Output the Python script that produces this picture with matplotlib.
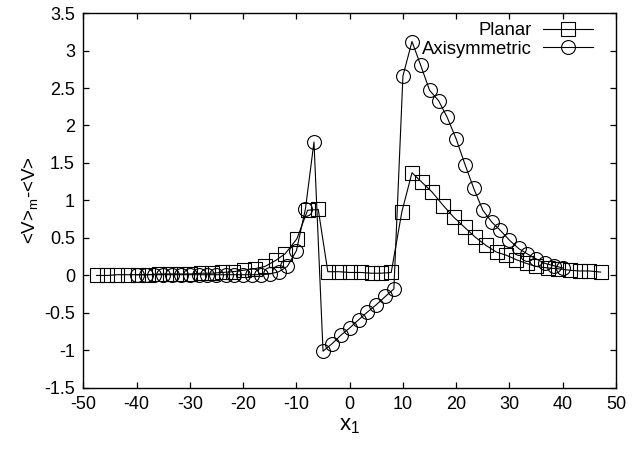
import numpy as np
import matplotlib
matplotlib.use("Agg")
import matplotlib.pyplot as plt

plt.rcParams['font.family'] = ['Liberation Sans', 'DejaVu Sans']
plt.rcParams['mathtext.fontset'] = 'custom'
plt.rcParams['mathtext.rm'] = 'Liberation Sans'
plt.rcParams['mathtext.it'] = 'Liberation Sans'
plt.rcParams['axes.unicode_minus'] = False

# planar case
planar_x = [-47.5, -45.5, -43.6, -41.7, -39.7, -37.8, -35.8, -33.8, -31.8, -29.9,
            -27.9, -25.9, -23.9, -21.9, -19.9, -17.8, -15.9, -13.9, -12.1, -9.9,
            -7.9, -5.9, -4.1, -2.0, 0.0, 2.1, 4.1, 5.9, 7.8, 9.8,
            11.7, 13.6, 15.5, 17.6, 19.5, 21.6, 23.6, 25.6, 27.6, 29.4,
            31.3, 33.2, 35.0, 37.2, 39.1, 41.3, 43.2, 45.0, 47.1]
planar_y = [0.0, 0.0, 0.01, 0.01, 0.01, 0.01, 0.02, 0.02, 0.02, 0.02,
            0.03, 0.03, 0.04, 0.05, 0.07, 0.09, 0.12, 0.20, 0.29, 0.49,
            0.87, 0.88, 0.05, 0.05, 0.04, 0.04, 0.03, 0.03, 0.04, 0.85,
            1.37, 1.24, 1.11, 0.93, 0.78, 0.64, 0.51, 0.40, 0.31, 0.27,
            0.21, 0.16, 0.12, 0.10, 0.09, 0.07, 0.06, 0.06, 0.045]

# axisymmetric case
axi_x = [-40.0, -38.3, -36.7, -35.0, -33.3, -31.7, -30.0, -28.3, -26.7, -25.0,
         -23.3, -21.7, -20.0, -18.3, -16.7, -15.0, -13.3, -11.7, -10.0, -8.3,
         -6.7, -5.0, -3.3, -1.7, 0.0, 1.7, 3.3, 5.0, 6.7, 8.3,
         10.0, 11.7, 13.3, 15.0, 16.7, 18.3, 20.0, 21.7, 23.3, 25.0,
         26.7, 28.3, 30.0, 31.7, 33.3, 35.0, 36.7, 38.3, 40.0]
axi_y = [0.01, 0.01, 0.01, 0.01, 0.01, 0.01, 0.01, 0.01, 0.01, 0.01,
         0.01, 0.01, 0.01, 0.01, 0.01, 0.02, 0.05, 0.12, 0.33, 0.89,
         1.78, -1.01, -0.91, -0.80, -0.70, -0.59, -0.49, -0.39, -0.28, -0.18,
         2.66, 3.12, 2.81, 2.47, 2.33, 2.11, 1.82, 1.47, 1.16, 0.87,
         0.71, 0.60, 0.47, 0.36, 0.29, 0.22, 0.16, 0.13, 0.10]

fig = plt.figure(figsize=(6.41, 4.49), dpi=100)
ax = fig.add_axes([0.13, 0.136, 0.831, 0.835])

ax.plot(planar_x, planar_y, color='black', lw=0.8, marker='s', ms=10,
        mfc='none', mec='black', mew=0.8, label='Planar')
ax.plot(axi_x, axi_y, color='black', lw=0.8, marker='o', ms=10,
        mfc='none', mec='black', mew=0.8, label='Axisymmetric')

ax.set_xlim(-50, 50)
ax.set_ylim(-1.5, 3.5)
ax.set_xticks(np.arange(-50, 51, 10))
ax.set_yticks(np.arange(-1.5, 3.51, 0.5))
ax.set_yticklabels(['-1.5', '-1', '-0.5', '0', '0.5', '1', '1.5', '2', '2.5', '3', '3.5'])
ax.tick_params(direction='in', length=4, width=0.9, labelsize=13,
               top=True, right=True, pad=6, colors='black')
for s in ax.spines.values():
    s.set_linewidth(1.0)

ax.set_xlabel('x$_1$', fontsize=16, labelpad=1)
ax.set_ylabel('<V>$_\\mathregular{m}$-<V>', fontsize=13.5, labelpad=3)

leg = ax.legend(loc='upper right', bbox_to_anchor=(0.957, 0.976),
                frameon=False, markerfirst=False,
                fontsize=13.3, handlelength=2.7, handletextpad=0.6,
                labelspacing=0.1, borderaxespad=0.0, borderpad=0.0)

fig.savefig('out.png', dpi=100)
